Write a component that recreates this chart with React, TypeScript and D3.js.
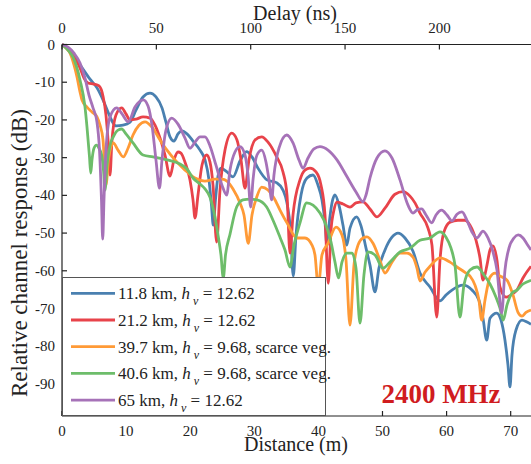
import React from 'react';
import * as d3 from 'd3';

const W = 531;
const H = 464;
const distMax = 73.17;
const dbMin = -98.5;
const metersPerNs = 0.2944;

const distTicks = [0, 10, 20, 30, 40, 50, 60, 70];
const delayTicks = [0, 50, 100, 150, 200];
const dbTicks = [0, -10, -20, -30, -40, -50, -60, -70, -80, -90];

const s118: [number, number][] = [
  [0, 0], [1.25, -1.7], [2.81, -5.4], [4.37, -9.2], [5.46, -11.5], [6.4, -14.7], [7.18, -17.9], [7.8, -20.3],
  [8.42, -21.6], [9.52, -21.4], [10.61, -20.6], [11.54, -17.4], [12.64, -13.9], [13.73, -12.9], [14.66, -13.9],
  [15.6, -16.8], [16.22, -20.6], [16.85, -24.5], [17.47, -25.6], [18.1, -23.7], [18.72, -22.9], [19.5, -23.7],
  [20.44, -25.6], [21.53, -28.0], [22.31, -30.6], [22.93, -35.9], [23.32, -42.6], [23.6, -47.9], [23.94, -41.2],
  [24.34, -34.9], [24.8, -32.8], [25.74, -33.8], [26.68, -35.1], [27.77, -30.9], [28.81, -28.4], [29.64, -29.8],
  [30.58, -32.8], [31.98, -35.9], [33.54, -36.7], [34.48, -38.6], [35.1, -42.0], [35.65, -49.2], [36.08, -61.4],
  [36.51, -50.5], [37.29, -39.9], [38.22, -35.4], [39.16, -34.6], [39.94, -37.3], [40.56, -41.2], [41.03, -47.1],
  [41.34, -53.2], [41.65, -47.9], [42.12, -42.0], [42.59, -39.9], [43.21, -42.6], [43.84, -47.9], [44.42, -53.2],
  [44.93, -48.7], [45.98, -45.7], [46.65, -48.1], [47.43, -54.0], [48.05, -58.5], [48.83, -65.6], [49.45, -59.3],
  [50.39, -54.5], [51.48, -51.1], [52.42, -50.0], [53.51, -51.3], [54.76, -54.8], [55.85, -60.6], [57.41, -64.3],
  [58.97, -68.0], [59.91, -66.4], [60.84, -65.1], [62.56, -63.8], [63.96, -65.1], [65.05, -67.8], [65.68, -72.6],
  [66.26, -78.4], [66.77, -72.6], [67.82, -71.2], [68.49, -73.1], [69.11, -78.4], [69.58, -85.0], [69.89, -90.8],
  [70.2, -82.4], [70.83, -75.7], [71.76, -73.1], [72.54, -73.6], [73.17, -74.2],
];

const s212: [number, number][] = [
  [0, 0], [0.94, -0.9], [1.87, -3.1], [2.81, -6.2], [3.43, -8.9], [4.06, -10.2], [4.99, -10.5], [5.77, -11.0],
  [6.4, -13.7], [6.86, -18.7], [7.18, -25.3], [7.49, -34.6], [7.8, -25.3], [8.42, -18.7], [9.31, -16.8],
  [9.98, -18.4], [10.61, -20.0], [11.54, -19.8], [12.64, -19.2], [13.73, -19.5], [14.51, -21.4], [15.29, -24.8],
  [16.07, -29.3], [16.85, -34.9], [17.47, -30.6], [18.1, -28.5], [18.56, -28.8], [19.19, -31.2], [19.97, -35.9],
  [20.44, -41.2], [20.75, -46.0], [21.22, -39.9], [21.84, -32.0], [22.57, -29.3], [23.09, -31.2], [23.56, -37.3],
  [24.13, -52.4], [24.65, -38.6], [25.43, -28.0], [26.47, -23.5], [27.3, -25.3], [27.93, -30.6], [28.55, -38.1],
  [29.17, -30.6], [30.11, -25.3], [31.15, -24.5], [32.14, -25.9], [33.49, -29.8], [34.48, -33.8], [35.1, -39.9],
  [35.57, -55.3], [36.04, -45.2], [37.13, -35.9], [37.91, -33.3], [38.69, -32.8], [39.63, -33.8], [40.41, -37.3],
  [41.03, -45.2], [41.54, -63.3], [41.97, -49.2], [42.43, -43.9], [42.9, -41.8], [43.84, -42.3], [44.93, -43.1],
  [45.87, -42.0], [46.96, -41.7], [48.05, -43.6], [49.14, -45.7], [50.39, -43.4], [51.95, -39.7], [53.2, -39.0],
  [54.29, -40.2], [55.07, -42.0], [55.85, -44.7], [57.1, -48.7], [57.72, -53.2], [58.46, -72.3], [58.97, -57.2],
  [59.59, -49.7], [60.53, -47.1], [61.78, -46.6], [62.87, -46.6], [63.65, -47.9], [64.59, -51.9], [65.21, -56.6],
  [65.68, -62.5], [66.3, -58.5], [66.77, -54.5], [67.24, -53.4], [67.86, -57.2], [68.33, -64.3], [69.27, -67.0],
  [70.05, -66.4], [70.98, -65.1], [71.92, -61.9], [73.17, -58.8],
];

const s397: [number, number][] = [
  [0, 0], [0.78, -1.2], [1.25, -2.3], [1.87, -5.4], [2.34, -8.6], [2.81, -12.6], [3.12, -14.7], [3.9, -16.6],
  [4.68, -17.9], [5.46, -19.2], [5.93, -21.4], [6.4, -25.3], [6.86, -37.3], [7.25, -30.6], [8.0, -26.1],
  [8.74, -28.0], [9.56, -29.8], [10.3, -27.5], [11.08, -24.0], [12.01, -21.4], [12.95, -20.5], [14.04, -21.9],
  [15.29, -25.3], [16.38, -28.0], [17.63, -30.6], [19.19, -33.3], [20.75, -35.4], [22.31, -36.2], [23.87, -35.7],
  [24.96, -35.7], [25.74, -36.2], [26.68, -38.3], [27.77, -42.0], [28.39, -45.2], [29.06, -52.7], [29.64, -45.2],
  [30.37, -40.5], [31.15, -37.8], [32.14, -38.6], [33.07, -40.7], [34.01, -43.9], [35.1, -47.3], [36.66, -51.3],
  [37.91, -51.3], [39.0, -53.2], [39.47, -55.8], [39.98, -64.3], [40.56, -55.8], [41.5, -52.7], [42.75, -48.4],
  [43.68, -50.5], [44.31, -57.2], [44.93, -74.4], [45.55, -58.5], [46.18, -53.2], [46.96, -51.3], [47.58, -51.0],
  [48.52, -52.7], [49.61, -57.2], [50.39, -60.6], [51.48, -57.7], [52.73, -55.3], [53.82, -55.3], [54.76, -56.4],
  [55.38, -59.3], [55.85, -62.7], [56.63, -60.4], [57.41, -58.8], [58.97, -56.6], [60.53, -57.7], [61.62, -59.0],
  [62.87, -60.4], [63.65, -61.4], [64.43, -63.8], [65.05, -67.8], [65.48, -73.1], [65.99, -67.8], [66.77, -61.7],
  [67.55, -60.6], [68.33, -61.4], [69.42, -62.5], [70.36, -66.4], [71.14, -71.0], [71.76, -72.0], [72.39, -71.0],
  [73.17, -70.4],
];

const s406: [number, number][] = [
  [0, 0], [0.94, -1.5], [1.7, -3.3], [2.81, -9.4], [3.59, -16.6], [3.9, -21.9], [4.29, -29.8], [4.48, -34.1],
  [4.68, -30.6], [4.99, -27.5], [5.38, -26.7], [5.77, -27.5], [6.19, -29.3], [6.47, -33.3], [6.71, -38.6],
  [7.02, -32.0], [7.49, -26.7], [8.0, -24.5], [8.74, -22.7], [9.31, -22.4], [9.98, -23.7], [11.08, -26.1],
  [12.64, -29.3], [14.2, -29.8], [16.38, -30.6], [18.41, -31.7], [19.5, -33.0], [20.44, -35.4], [21.53, -37.0],
  [22.31, -38.3], [23.09, -40.5], [23.71, -44.4], [24.34, -50.5], [24.8, -55.8], [25.16, -61.9], [25.51, -55.8],
  [26.21, -50.3], [27.25, -43.1], [28.24, -41.2], [29.33, -41.0], [30.42, -41.2], [31.93, -43.1], [32.92, -46.6],
  [34.01, -51.1], [34.79, -54.5], [35.57, -59.0], [36.19, -53.2], [37.13, -47.3], [38.17, -42.0], [39.16, -42.6],
  [40.25, -44.7], [41.19, -47.9], [41.97, -52.4], [42.59, -57.7], [43.14, -61.9], [43.68, -57.7], [44.46, -55.3],
  [45.24, -55.3], [45.87, -59.3], [46.49, -73.9], [47.11, -61.1], [47.74, -55.0], [48.83, -55.8], [50.08, -59.3],
  [51.17, -57.7], [52.73, -55.0], [54.29, -54.0], [55.85, -51.9], [57.41, -51.3], [58.97, -49.7], [59.91, -51.1],
  [60.69, -54.0], [61.31, -58.5], [62.09, -72.3], [62.71, -63.8], [63.65, -59.8], [64.74, -59.0], [65.83, -61.1],
  [66.77, -63.5], [67.71, -67.0], [68.33, -69.9], [68.84, -73.1], [69.42, -69.1], [70.2, -65.9], [70.98, -65.1],
  [71.92, -63.5], [73.17, -62.5],
];

const s65: [number, number][] = [
  [0, 0], [0.94, -0.7], [1.87, -2.3], [2.81, -4.9], [3.59, -8.9], [4.21, -13.4], [4.84, -16.8], [5.46, -20.6],
  [5.85, -28.0], [6.16, -41.2], [6.35, -51.6], [6.55, -41.2], [6.86, -28.0], [7.49, -19.2], [8.53, -16.8],
  [9.36, -18.4], [10.34, -20.5], [11.39, -16.6], [12.68, -14.7], [13.42, -16.3], [14.04, -21.4], [14.66, -30.6],
  [15.21, -38.1], [15.6, -30.6], [16.22, -22.7], [17.11, -19.5], [18.1, -21.1], [19.19, -24.8], [19.97, -27.5],
  [20.75, -25.9], [21.53, -24.5], [22.31, -24.5], [23.09, -26.9], [24.02, -32.0], [24.96, -37.3], [25.69, -39.9],
  [26.21, -33.3], [26.99, -28.5], [27.77, -27.1], [28.55, -29.3], [29.02, -34.6], [29.44, -43.1], [29.8, -35.9],
  [30.42, -29.3], [31.15, -28.0], [31.83, -31.2], [32.29, -35.9], [32.71, -41.2], [33.07, -34.6], [33.85, -27.5],
  [35.06, -24.0], [36.04, -26.1], [36.97, -30.6], [37.6, -32.8], [38.38, -30.1], [39.31, -27.7], [40.25, -27.1],
  [41.5, -28.0], [42.9, -30.6], [44.31, -34.6], [45.87, -39.1], [46.96, -41.7], [47.43, -39.9], [48.05, -35.4],
  [49.14, -30.1], [50.39, -28.2], [51.48, -30.1], [52.73, -35.9], [53.98, -42.6], [54.76, -44.7], [55.38, -43.9],
  [56.12, -43.6], [56.79, -45.2], [57.68, -47.3], [58.35, -45.2], [59.24, -43.9], [60.06, -45.2], [60.84, -46.8],
  [61.62, -45.0], [62.4, -44.4], [63.18, -46.6], [63.96, -49.7], [64.74, -51.3], [65.68, -49.5], [66.46, -51.3],
  [67.24, -55.0], [67.86, -59.8], [68.6, -71.2], [69.11, -59.8], [69.73, -54.0], [70.51, -51.3], [71.18, -50.5],
  [71.92, -51.3], [72.54, -52.9], [73.17, -54.5],
];

const seriesData = [s118, s212, s397, s406, s65];
const seriesColors = ['#4a80b0', '#e8434a', '#ff9a36', '#6dbd6a', '#a672b8'];
const legendDist = ['11.8 km', '21.2 km', '39.7 km', '40.6 km', '65 km'];
const legendHv = ['12.62', '12.62', '9.68', '9.68', '12.62'];
const legendNote = ['', '', ', scarce veg.', ', scarce veg.', ''];

const txt: React.CSSProperties = { fontFamily: "'Liberation Serif'" };

export default function App() {
  const x = d3.scaleLinear().domain([0, distMax]).range([62, 531]);
  const y = d3.scaleLinear().domain([0, dbMin]).range([44.5, 416]);
  const xTop = d3.scaleLinear().domain([0, distMax / metersPerNs]).range([62, 531]);
  const line = d3
    .line<[number, number]>()
    .x((d) => x(d[0]))
    .y((d) => y(d[1]))
    .curve(d3.curveMonotoneX);

  const plotL = 62, plotR = 531, plotT = 44.5, plotB = 416;

  return (
    <svg width={W} height={H} style={{ position: 'absolute', left: 0, top: 0, background: '#fff' }}>
      <defs>
        <clipPath id="plotClip">
          <rect x={plotL} y={plotT - 2} width={plotR - plotL} height={plotB - plotT + 2} />
        </clipPath>
      </defs>
      <rect x={0} y={0} width={W} height={H} fill="#fff" />
      <g clipPath="url(#plotClip)">
        {seriesData.map((s, i) => (
          <path key={i} d={line(s) || ''} fill="none" stroke={seriesColors[i]} strokeWidth={2.8} strokeLinejoin="round" />
        ))}
      </g>
      <line x1={plotL} x2={plotR} y1={plotT} y2={plotT} stroke="#222" strokeWidth={1.2} />
      <line x1={plotL} x2={plotR} y1={plotB} y2={plotB} stroke="#222" strokeWidth={1.2} />
      <line x1={plotL} x2={plotL} y1={plotT} y2={plotB} stroke="#222" strokeWidth={1.2} />
      {dbTicks.map((t) => (
        <g key={'y' + t}>
          <line x1={plotL} x2={plotL + 5} y1={y(t)} y2={y(t)} stroke="#222" strokeWidth={1.2} />
          <text style={txt} x={55} y={y(t) + 5} fontSize={15} textAnchor="end" fill="#222">
            {t === 0 ? '0' : String(t)}
          </text>
        </g>
      ))}
      {distTicks.map((t) => (
        <g key={'x' + t}>
          <line x1={x(t)} x2={x(t)} y1={plotB} y2={plotB - 5} stroke="#222" strokeWidth={1.2} />
          <text style={txt} x={x(t)} y={436} fontSize={15} textAnchor="middle" fill="#222">
            {t}
          </text>
        </g>
      ))}
      {delayTicks.map((t) => (
        <g key={'t' + t}>
          <line x1={xTop(t)} x2={xTop(t)} y1={plotT} y2={plotT + 5} stroke="#222" strokeWidth={1.2} />
          <text style={txt} x={xTop(t)} y={33} fontSize={15} textAnchor="middle" fill="#222">
            {t}
          </text>
        </g>
      ))}
      <text style={txt} x={295} y={20} fontSize={20} textAnchor="middle" fill="#222">Delay (ns)</text>
      <text style={txt} x={296} y={451} fontSize={20} textAnchor="middle" fill="#222">Distance (m)</text>
      <text style={txt} transform="translate(27,253) rotate(-90)" fontSize={23} textAnchor="middle" fill="#222">
        Relative channel response (dB)
      </text>
      <rect x={62.5} y={277.5} width={263} height={138} fill="#fff" stroke="#555" strokeWidth={1} />
      {legendDist.map((d, i) => {
        const ry = 293.3 + i * 26.7;
        return (
          <g key={'lg' + i}>
            <line x1={71} x2={115} y1={ry} y2={ry} stroke={seriesColors[i]} strokeWidth={2.8} />
            <text style={txt} x={118} y={ry + 6} fontSize={17} fill="#222">
              {d + ', '}
              <tspan style={txt} fontStyle="italic">h</tspan>
              <tspan style={txt} fontStyle="italic" fontSize={12} dx={3} dy={6}>v</tspan>
              <tspan style={txt} dy={-6}>{' = ' + legendHv[i] + legendNote[i]}</tspan>
            </text>
          </g>
        );
      })}
      <text style={txt} x={441} y={403} fontSize={27} fontWeight="bold" textAnchor="middle" fill="#d01c1f">2400 MHz</text>
    </svg>
  );
}
